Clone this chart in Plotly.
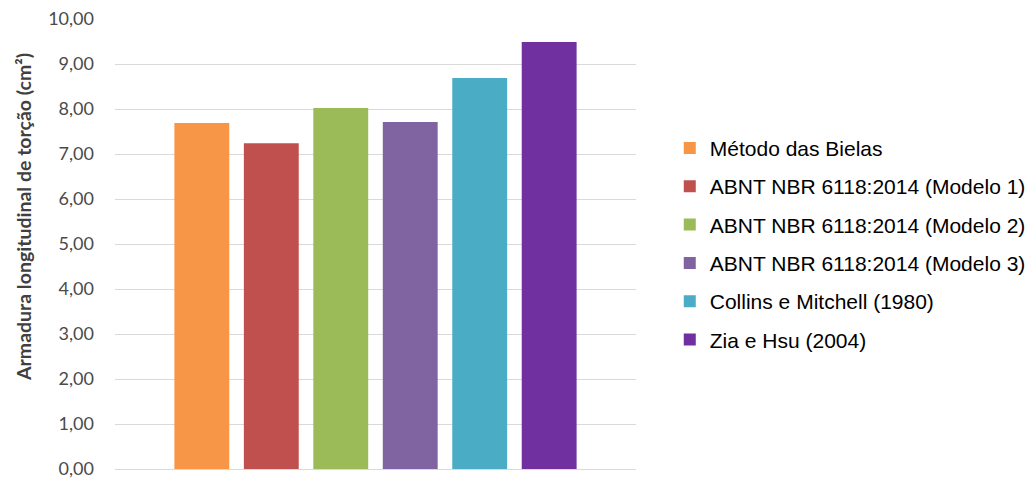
import plotly.graph_objects as go

series_names = [
    "Método das Bielas",
    "ABNT NBR 6118:2014 (Modelo 1)",
    "ABNT NBR 6118:2014 (Modelo 2)",
    "ABNT NBR 6118:2014 (Modelo 3)",
    "Collins e Mitchell (1980)",
    "Zia e Hsu (2004)",
]
series_values = [7.69, 7.24, 8.02, 7.71, 8.69, 9.49]
series_colors = ["#F79646", "#C0504D", "#9BBB59", "#8064A2", "#4BACC6", "#7030A0"]
category = [""]
y_ticks = [0, 1, 2, 3, 4, 5, 6, 7, 8, 9, 10]

fig = go.Figure()
for i, (name, val, col) in enumerate(zip(series_names, series_values, series_colors)):
    fig.add_trace(go.Bar(
        x=category, y=[val], name=name, marker=dict(color=col, line=dict(width=0)),
        legendgroup=f"g{i}", hoverinfo="y+name",
    ))

fig.update_layout(
    width=1032, height=480,
    margin=dict(l=115, r=396, t=19, b=11, autoexpand=False),
    paper_bgcolor="white", plot_bgcolor="white",
    barmode="group", bargap=0.2, bargroupgap=0.21,
    separators=",.",
    showlegend=True,
    legend=dict(
        xref="container", yref="container",
        x=0.649, y=0.492, xanchor="left", yanchor="middle",
        font=dict(family="Liberation Sans, Arial, sans-serif", size=21, color="#000000"),
        tracegroupgap=8, itemwidth=30,
        bgcolor="rgba(0,0,0,0)",
    ),
    xaxis=dict(showticklabels=False, showgrid=False, zeroline=False, showline=False,
               ticks="", automargin=False),
    yaxis=dict(
        range=[0, 10], tickvals=y_ticks, tickformat=".2f", automargin=False,
        showgrid=True, gridcolor="#D9D9D9", gridwidth=1.3,
        zeroline=True, zerolinecolor="#D9D9D9", zerolinewidth=1.3,
        showline=False, ticks="", ticklabelstandoff=20,
        tickfont=dict(family="Lato, Calibri, sans-serif", size=18, color="#4A4A4A"),
    ),
    annotations=[dict(
        text="<b>Armadura longitudinal de torção (cm²)</b>",
        xref="paper", yref="paper",
        x=-(115 - 24) / 521, y=1 - (217 - 19) / 450,
        xanchor="center", yanchor="middle", textangle=-90, showarrow=False,
        font=dict(family="Lato, Calibri, sans-serif", size=19.5, color="#404040"),
    )],
)

fig.write_html("out.html")
